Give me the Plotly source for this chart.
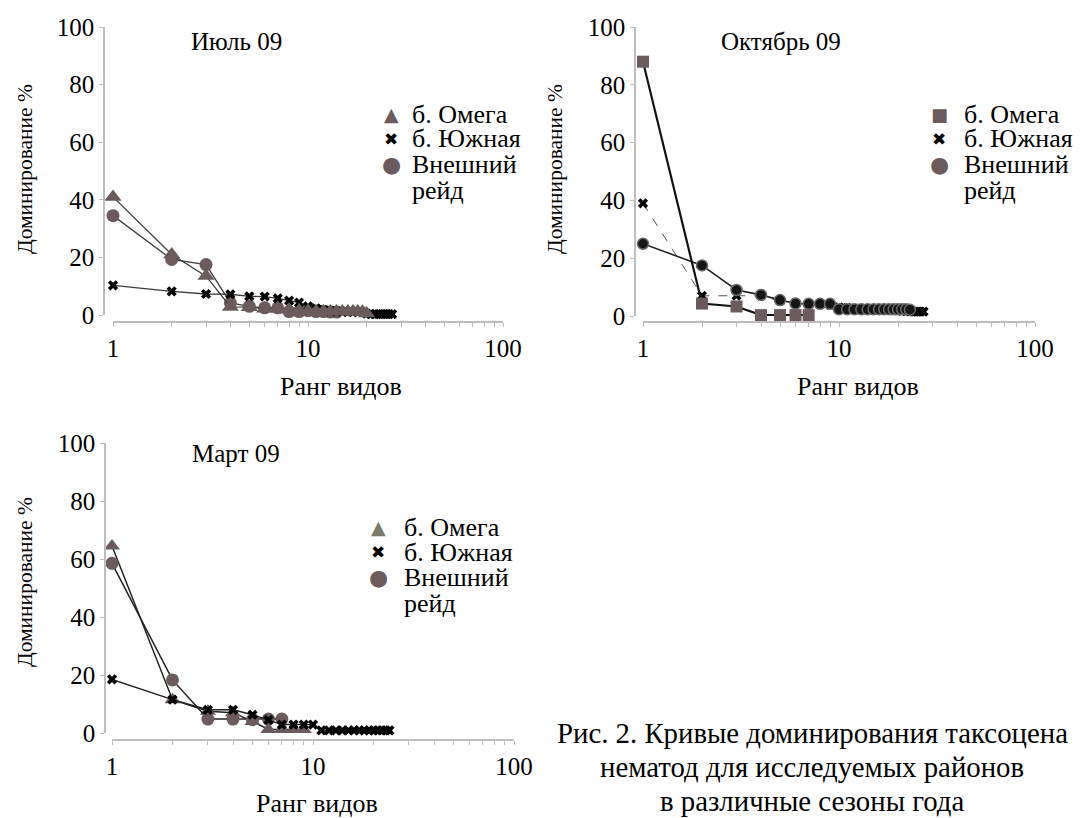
import plotly.graph_objects as go

W, H = 1081, 818
FONT = "Liberation Serif, Times New Roman, serif"
GLYPH_FONT = "DejaVu Sans"
BROWN = "#6b5b5c"
OLIVE = "#7b7b69"
LINE = "#3c3c3c"
AXIS = "#bdbdbd"

# ---------------- data ----------------
series_names = ["б. Омега", "б. Южная", "Внешний", "рейд"]

jul_omega = [41, 21, 13.5, 2.8, 2.7, 2.2, 2.2, 1.8, 1.6, 1.4, 1.3, 1.3, 1.2, 1.2, 1.2, 1.2, 1.2, 1.2, 1.1, 0.5]
jul_south = [10.3, 8.2, 7.3, 7.2, 6.5, 6.4, 5.8, 5.0, 4.3, 3.0, 2.3, 1.8, 1.5, 1.2, 1.2, 1.0, 1.0, 1.0, 1.0,
             0.5, 0.3, 0.3, 0.3, 0.3, 0.3, 0.3, 0.3]
jul_outer = [34.5, 19.3, 17.5, 4.2, 3.0, 2.5, 2.5, 1.2, 1.2, 1.5, 1.2, 1.2, 1.0, 1.0]

oct_omega = [88, 4.3, 3.3, 0.3, 0.3, 0.3, 0.3]
oct_south = [39, 7.0, 7.0, 7.0, 5.2, 4.5, 4.0, 4.0, 3.8, 3.0, 2.8, 2.6, 2.5, 2.4, 2.3, 2.2, 2.1, 2.0, 2.0,
             1.9, 1.8, 1.7, 1.6, 1.5, 1.5, 1.5, 1.5]
oct_outer = [25, 17.5, 9.0, 7.3, 5.5, 4.3, 4.2, 4.2, 4.2, 2.3, 2.3, 2.3, 2.3, 2.3, 2.3, 2.3, 2.3, 2.3, 2.3,
             2.3, 2.3, 2.3, 2.2]

mar_omega = [64.5, 11.5, 7.5, 7.0, 4.0, 1.2, 1.2, 1.2, 1.2]
mar_south = [18.5, 11.5, 8.0, 8.0, 6.3, 4.5, 2.9, 2.9, 2.9, 2.9, 0.9, 0.9, 0.9, 0.9, 0.9, 0.9, 0.9, 0.9, 0.9,
             0.9, 0.9, 0.9, 0.9, 0.9]
mar_outer = [58.5, 18.3, 4.8, 4.8, 4.6, 4.8, 4.8]

x_tickvals = [1, 2, 3, 4, 5, 6, 7, 8, 9, 10, 20, 30, 40, 50, 60, 70, 80, 90, 100]
x_ticktext = ["1", "", "", "", "", "", "", "", "", "10", "", "", "", "", "", "", "", "", "100"]
y_tickvals = [0, 20, 40, 60, 80, 100]

panel_titles = ["Июль 09", "Октябрь 09", "Март 09"]
y_title = "Доминирование %"
x_title = "Ранг видов"
caption = ["Рис. 2. Кривые доминирования таксоцена",
           "нематод для исследуемых районов",
           "в различные сезоны года"]


def ranks(vals):
    return list(range(1, len(vals) + 1))


def fx(p):
    return p / W


def fy(p):
    return 1 - p / H


# pixel geometry of each panel
panels = [
    dict(x1=113, x100=503, y0=315, y100=27, yax=104, xax=322, xs="x", ys="y",
         title_xy=(236, 42), ytitle_xy=(25, 169), xtitle_xy=(341, 386),
         leg_mx=391, leg_tx=411, leg_rows=[114, 139, 164, 190],
         leg_glyphs=[("▲", BROWN, 19), ("✖", "black", 17), ("●", BROWN, 22)]),
    dict(x1=643, x100=1035, y0=316, y100=27, yax=635, xax=322, xs="x2", ys="y2",
         title_xy=(781, 42), ytitle_xy=(555, 169), xtitle_xy=(858, 386),
         leg_mx=939, leg_tx=963, leg_rows=[115, 139, 164, 190],
         leg_glyphs=[("■", BROWN, 18), ("✖", "black", 17), ("●", BROWN, 22)]),
    dict(x1=112, x100=514, y0=733, y100=443, yax=105, xax=740, xs="x3", ys="y3",
         title_xy=(236, 453), ytitle_xy=(25, 582), xtitle_xy=(317, 803),
         leg_mx=378, leg_tx=403, leg_rows=[527, 552, 577, 603],
         leg_glyphs=[("▲", OLIVE, 19), ("✖", "black", 17), ("●", BROWN, 22)]),
]

fig = go.Figure()


def add(vals, pnl, name, symbol, size, color, lcolor, lwidth, dash="solid", mline=None):
    fig.add_trace(go.Scatter(
        x=ranks(vals), y=vals, mode="lines+markers", name=name, showlegend=False,
        xaxis=pnl["xs"], yaxis=pnl["ys"], cliponaxis=False,
        line=dict(color=lcolor, width=lwidth, dash=dash),
        marker=dict(symbol=symbol, size=size, color=color,
                    line=mline if mline else dict(width=0)),
    ))


p1, p2, p3 = panels
# July
add(jul_outer, p1, series_names[2], "circle", 13, BROWN, LINE, 1.3)
add(jul_south, p1, series_names[1], "x", 9, "black", LINE, 1.3)
add(jul_omega, p1, series_names[0], "triangle-up", 15, BROWN, LINE, 1.3)
# October
add(oct_south, p2, series_names[1], "x", 9, "black", "#555555", 1, dash="dash")
add(oct_outer, p2, series_names[2], "circle", 11, "#151515", "#222222", 1.6,
    mline=dict(color="#6a6a6a", width=1.5))
add(oct_omega, p2, series_names[0], "square", 12, BROWN, "#111111", 2.2)
# March
add(mar_omega, p3, series_names[0], "triangle-up", 14, BROWN, "#222222", 1.5)
add(mar_outer, p3, series_names[2], "circle", 13, BROWN, "#222222", 1.5)
add(mar_south, p3, series_names[1], "x", 9, "black", "#222222", 1.5)

tickfont = dict(family=FONT, size=25, color="black")
layout = dict(
    width=W, height=H, margin=dict(l=0, r=0, t=0, b=0, autoexpand=False),
    paper_bgcolor="white", plot_bgcolor="rgba(0,0,0,0)",
    font=dict(family=FONT, size=24, color="black"),
    showlegend=False,
    annotations=[],
)


def ann(text, x, y, size, xanchor="center", angle=0, color="black", family=FONT):
    return dict(text=text, x=fx(x), y=fy(y), xref="paper", yref="paper", showarrow=False,
                xanchor=xanchor, yanchor="middle", textangle=angle, borderpad=0,
                font=dict(family=family, size=size, color=color))


for i, p in enumerate(panels):
    sfx = "" if i == 0 else str(i + 1)
    layout["xaxis" + sfx] = dict(
        type="log", range=[0, 2], domain=[fx(p["x1"]), fx(p["x100"])],
        anchor="free", position=fy(p["xax"]),
        showline=True, linecolor=AXIS, linewidth=1.5,
        ticks="outside", tickcolor=AXIS, ticklen=4, tickwidth=1,
        tickvals=x_tickvals, ticktext=x_ticktext, tickfont=tickfont,
        showgrid=False, zeroline=False,
    )
    layout["yaxis" + sfx] = dict(
        range=[0, 100], domain=[fy(p["y0"]), fy(p["y100"])],
        anchor="free", position=fx(p["yax"]),
        showline=True, linecolor=AXIS, linewidth=1.5,
        ticks="outside", tickcolor=AXIS, ticklen=4, tickwidth=1,
        tickvals=y_tickvals, tickfont=tickfont,
        showgrid=False, zeroline=False,
    )
    layout["annotations"] += [
        ann(panel_titles[i], *p["title_xy"], 25),
        ann(y_title, *p["ytitle_xy"], 21.5, angle=-90),
        ann(x_title, *p["xtitle_xy"], 26),
    ]
    # legend block
    for k, name in enumerate(series_names):
        layout["annotations"].append(ann(name, p["leg_tx"], p["leg_rows"][k], 26, xanchor="left"))
    for k, (g, col, sz) in enumerate(p["leg_glyphs"]):
        layout["annotations"].append(ann(g, p["leg_mx"], p["leg_rows"][k], sz, color=col, family=GLYPH_FONT))

for j, line in enumerate(caption):
    layout["annotations"].append(ann(line, 812, 733 + j * 34, 28.8))

fig.update_layout(layout)
fig.write_html("out.html", config={"displayModeBar": False},
               post_script="document.body.style.margin='0';document.body.style.overflow='hidden';")
